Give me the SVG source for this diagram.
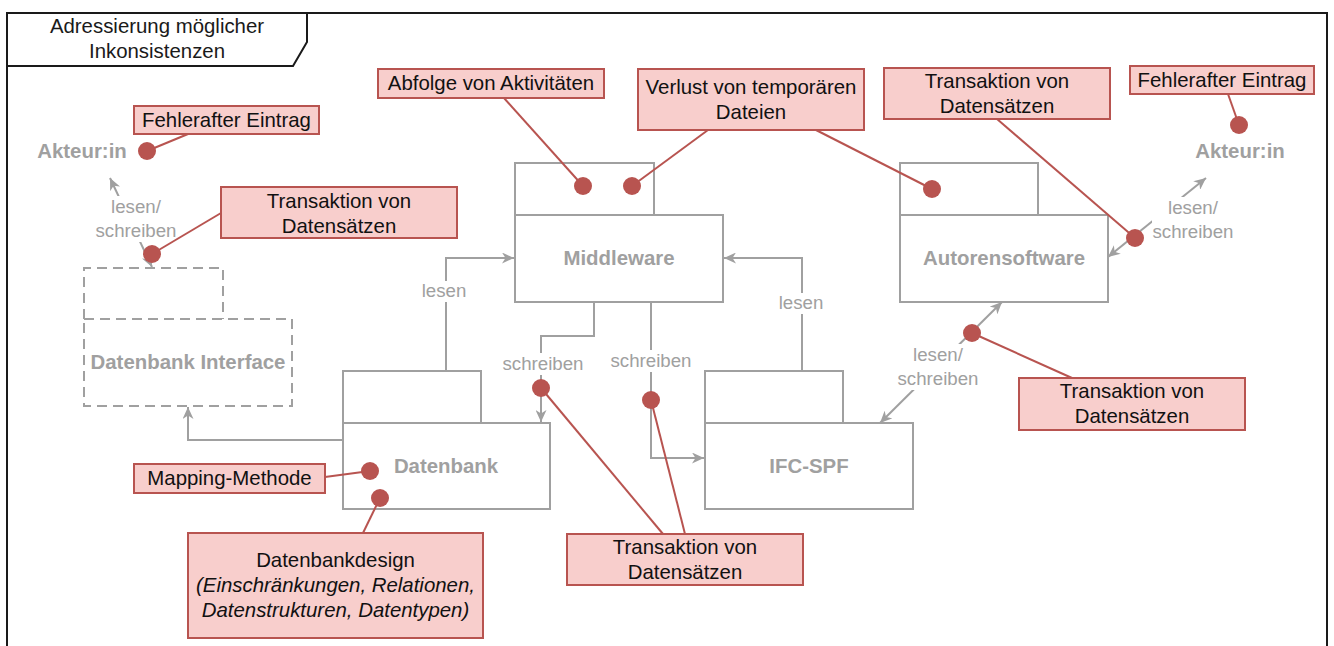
<svg xmlns="http://www.w3.org/2000/svg" width="1334" height="646" viewBox="0 0 1334 646">
  <style>
    .frame { fill: none; stroke: #1a1a1a; stroke-width: 2; }
    .title { font-family: "Liberation Sans", Arial, sans-serif; font-size: 20.4px; fill: #1a1a1a; text-anchor: middle; }
    .node { fill: #ffffff; stroke: #a0a0a0; stroke-width: 2; }
    .node-dashed { fill: none; stroke: #a0a0a0; stroke-width: 2; stroke-dasharray: 10 6; }
    .name { font-family: "Liberation Sans", Arial, sans-serif; font-size: 20.4px; font-weight: bold; fill: #a0a0a0; text-anchor: middle; }
    .edge { fill: none; stroke: #a0a0a0; stroke-width: 2; }
    .elabel { font-family: "Liberation Sans", Arial, sans-serif; font-size: 18.7px; fill: #a0a0a0; text-anchor: middle; }
    .lbg { fill: #ffffff; }
    .note { fill: #f8cecc; stroke: #b85450; stroke-width: 2; }
    .ntext { font-family: "Liberation Sans", Arial, sans-serif; font-size: 20.4px; fill: #111111; text-anchor: middle; }
    .it { font-style: italic; }
    .pin { fill: #b85450; }
    .lead { fill: none; stroke: #b85450; stroke-width: 2; }
  </style>
  <defs>
    <marker id="arrow" markerUnits="userSpaceOnUse" markerWidth="13" markerHeight="11" refX="12" refY="5.5" orient="auto-start-reverse">
      <path d="M0,0 L12,5.5 L0,11 L3.5,5.5 z" fill="#a0a0a0"/>
    </marker>
  </defs>

  <rect width="1334" height="646" fill="#ffffff"/>

  <!-- frame with title tab -->
  <g id="frame">
    <path class="frame" d="M7,660 V13 H1327 V660"/>
    <path class="frame" d="M7,66 H293 L307,42 V13"/>
    <text class="title" x="157" y="33">Adressierung möglicher</text>
    <text class="title" x="157" y="58">Inkonsistenzen</text>
  </g>

  <!-- connectors -->
  <g id="connectors">
    <path class="edge" d="M152,267 L110,178" marker-start="url(#arrow)" marker-end="url(#arrow)"/>
    <path class="edge" d="M343,440 H188 V407" marker-end="url(#arrow)"/>
    <path class="edge" d="M446,371 V258 H514" marker-end="url(#arrow)"/>
    <path class="edge" d="M802,371 V258 H724" marker-end="url(#arrow)"/>
    <path class="edge" d="M594,302 V336 H541 V422" marker-end="url(#arrow)"/>
    <path class="edge" d="M651,302 V458 H704" marker-end="url(#arrow)"/>
    <path class="edge" d="M880,423 L1002,302" marker-start="url(#arrow)" marker-end="url(#arrow)"/>
    <path class="edge" d="M1108,257 L1206,178" marker-start="url(#arrow)" marker-end="url(#arrow)"/>

    <rect class="lbg" x="96" y="196" width="82" height="46"/>
    <text class="elabel" x="136" y="213">lesen/</text>
    <text class="elabel" x="136" y="237">schreiben</text>

    <rect class="lbg" x="421" y="281" width="46" height="21"/>
    <text class="elabel" x="444" y="297">lesen</text>

    <rect class="lbg" x="778" y="293" width="46" height="21"/>
    <text class="elabel" x="801" y="309">lesen</text>

    <rect class="lbg" x="502" y="353" width="83" height="22"/>
    <text class="elabel" x="543" y="370">schreiben</text>

    <rect class="lbg" x="609" y="350" width="84" height="22"/>
    <text class="elabel" x="651" y="367">schreiben</text>

    <rect class="lbg" x="897" y="344" width="82" height="46"/>
    <text class="elabel" x="938" y="361">lesen/</text>
    <text class="elabel" x="938" y="385">schreiben</text>

    <rect class="lbg" x="1152" y="197" width="82" height="46"/>
    <text class="elabel" x="1193" y="214">lesen/</text>
    <text class="elabel" x="1193" y="238">schreiben</text>
  </g>

  <!-- nodes -->
  <g id="akteur-left">
    <text class="name" x="82" y="158">Akteur:in</text>
  </g>
  <g id="akteur-right">
    <text class="name" x="1240" y="158">Akteur:in</text>
  </g>

  <g id="datenbank-interface">
    <path class="node-dashed" d="M84,319 V268 H223 V319"/>
    <rect class="node-dashed" x="84" y="319" width="208" height="87"/>
    <text class="name" x="188" y="369">Datenbank Interface</text>
  </g>

  <g id="middleware">
    <rect class="node" x="515" y="163" width="139" height="52"/>
    <rect class="node" x="515" y="215" width="208" height="87"/>
    <text class="name" x="619" y="265">Middleware</text>
  </g>

  <g id="autorensoftware">
    <rect class="node" x="900" y="163" width="138" height="52"/>
    <rect class="node" x="900" y="215" width="208" height="87"/>
    <text class="name" x="1004" y="265">Autorensoftware</text>
  </g>

  <g id="datenbank">
    <rect class="node" x="343" y="371" width="138" height="52"/>
    <rect class="node" x="343" y="423" width="207" height="86"/>
    <text class="name" x="446" y="473">Datenbank</text>
  </g>

  <g id="ifc-spf">
    <rect class="node" x="705" y="371" width="138" height="52"/>
    <rect class="node" x="705" y="423" width="208" height="86"/>
    <text class="name" x="809" y="473">IFC-SPF</text>
  </g>

  <!-- annotation leaders -->
  <g id="leaders">
    <line class="lead" x1="147" y1="151" x2="188" y2="134"/>
    <line class="lead" x1="152" y1="254" x2="221" y2="213"/>
    <line class="lead" x1="583" y1="186" x2="504" y2="98"/>
    <line class="lead" x1="632" y1="186" x2="708" y2="130"/>
    <line class="lead" x1="816" y1="130" x2="932" y2="189"/>
    <line class="lead" x1="997" y1="119" x2="1135" y2="238"/>
    <line class="lead" x1="1228" y1="94" x2="1239" y2="125"/>
    <line class="lead" x1="972" y1="333" x2="1072" y2="378"/>
    <line class="lead" x1="541" y1="388" x2="663" y2="534"/>
    <line class="lead" x1="651" y1="400" x2="685" y2="534"/>
    <line class="lead" x1="325" y1="477" x2="370" y2="471"/>
    <line class="lead" x1="380" y1="498" x2="363" y2="533"/>
  </g>

  <!-- annotations -->
  <g id="note-fehler-left">
    <rect class="note" x="134" y="106" width="185" height="28"/>
    <text class="ntext" x="226.5" y="127">Fehlerafter Eintrag</text>
  </g>
  <g id="note-transaktion-left">
    <rect class="note" x="221" y="187" width="236" height="51"/>
    <text class="ntext" x="339" y="208">Transaktion von</text>
    <text class="ntext" x="339" y="233">Datensätzen</text>
  </g>
  <g id="note-abfolge">
    <rect class="note" x="378" y="69" width="226" height="29"/>
    <text class="ntext" x="491" y="90">Abfolge von Aktivitäten</text>
  </g>
  <g id="note-verlust">
    <rect class="note" x="638" y="69" width="226" height="61"/>
    <text class="ntext" x="751" y="94">Verlust von temporären</text>
    <text class="ntext" x="751" y="119">Dateien</text>
  </g>
  <g id="note-transaktion-top">
    <rect class="note" x="884" y="68" width="226" height="51"/>
    <text class="ntext" x="997" y="88">Transaktion von</text>
    <text class="ntext" x="997" y="113">Datensätzen</text>
  </g>
  <g id="note-fehler-right">
    <rect class="note" x="1130" y="66" width="184" height="28"/>
    <text class="ntext" x="1222" y="87">Fehlerafter Eintrag</text>
  </g>
  <g id="note-transaktion-ifc">
    <rect class="note" x="1019" y="378" width="226" height="52"/>
    <text class="ntext" x="1132" y="398">Transaktion von</text>
    <text class="ntext" x="1132" y="423">Datensätzen</text>
  </g>
  <g id="note-transaktion-bottom">
    <rect class="note" x="567" y="534" width="236" height="51"/>
    <text class="ntext" x="685" y="554">Transaktion von</text>
    <text class="ntext" x="685" y="579">Datensätzen</text>
  </g>
  <g id="note-mapping">
    <rect class="note" x="134" y="464" width="191" height="29"/>
    <text class="ntext" x="229.5" y="485">Mapping-Methode</text>
  </g>
  <g id="note-datenbankdesign">
    <rect class="note" x="188" y="533" width="295" height="105"/>
    <text class="ntext" x="335.5" y="567">Datenbankdesign</text>
    <text class="ntext it" x="335.5" y="592">(Einschränkungen, Relationen,</text>
    <text class="ntext it" x="335.5" y="617">Datenstrukturen, Datentypen)</text>
  </g>

  <!-- annotation pins -->
  <g id="pins">
    <circle class="pin" cx="147" cy="151" r="9"/>
    <circle class="pin" cx="152" cy="254" r="9"/>
    <circle class="pin" cx="583" cy="186" r="9"/>
    <circle class="pin" cx="632" cy="186" r="9"/>
    <circle class="pin" cx="932" cy="189" r="9"/>
    <circle class="pin" cx="1135" cy="238" r="9"/>
    <circle class="pin" cx="1239" cy="125" r="9"/>
    <circle class="pin" cx="972" cy="333" r="9"/>
    <circle class="pin" cx="541" cy="388" r="9"/>
    <circle class="pin" cx="651" cy="400" r="9"/>
    <circle class="pin" cx="370" cy="471" r="9"/>
    <circle class="pin" cx="380" cy="498" r="9"/>
  </g>
</svg>
